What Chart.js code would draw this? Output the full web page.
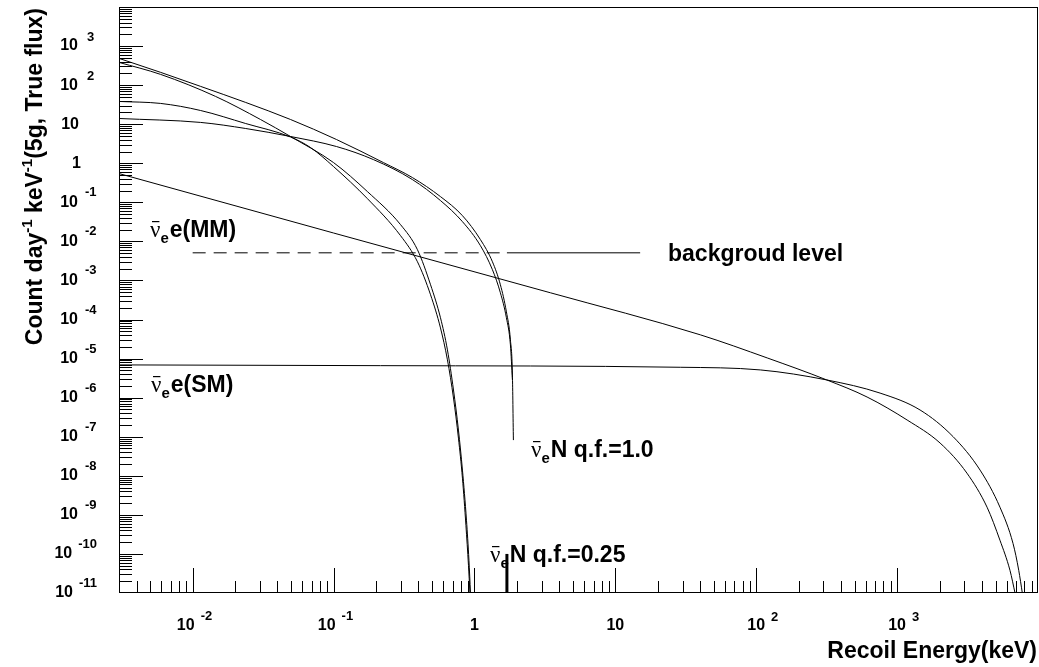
<!DOCTYPE html>
<html>
<head>
<meta charset="utf-8">
<script src="https://cdn.jsdelivr.net/npm/chart.js@4.4.1/dist/chart.umd.min.js"></script>
<style>
  html, body { margin: 0; padding: 0; background: #fff; }
  #wrap { width: 1039px; height: 667px; }
</style>
</head>
<body>
<div id="wrap"><canvas id="rates" width="1039" height="667"></canvas></div>
<script>
// recoil energy (keV) / event rate (counts day^-1 keV^-1) for each spectrum
const smEnergy = [0.003, 0.215, 28.9, 107, 317, 757, 1455, 2500, 3880, 5370, 6650, 7300, 7740];
const smRate   = [6.9e-6, 6.6e-6, 6.0e-6, 5.13e-6, 2.84e-6, 1.31e-6, 4.84e-7, 1.0e-7, 1.4e-8, 1.57e-9, 1.85e-10, 3.8e-11, 1e-11];

const mmEnergy = [0.003, 0.1, 3.46, 40.1, 119.7, 317, 612, 1178, 2018, 3130, 4350, 5370, 6325, 6870];
const mmRate   = [0.545, 0.0164, 4.84e-4, 4.06e-5, 1.04e-5, 2.84e-6, 1.04e-6, 2.68e-7, 6.9e-8, 1.17e-8, 1.57e-9, 2.24e-10, 3.8e-11, 1e-11];

// nuclear recoil, quenching factor 1.0
const qf1aEnergy = [0.003, 0.00593, 0.0114, 0.0238, 0.0495, 0.105, 0.226, 0.363, 0.574, 0.822, 1.103, 1.342, 1.528, 1.686, 1.80, 1.86, 1.89];
const qf1aRate   = [484, 212, 92.7, 36.0, 13.2, 4.05, 1.04, 0.430, 0.140, 0.0456, 0.0111, 3.01e-3, 7.76e-4, 1.57e-4, 3.01e-5, 3.82e-6, 8.2e-8];
const qf1bEnergy = [0.003, 0.0114, 0.0238, 0.0495, 0.105, 0.192, 0.363, 0.574, 0.822, 1.103, 1.342, 1.528, 1.686, 1.80, 1.86];
const qf1bRate   = [14.0, 11.1, 7.76, 4.84, 2.68, 1.24, 0.382, 0.111, 0.0320, 7.76e-3, 1.88e-3, 4.84e-4, 1.11e-4, 2.24e-5, 2.84e-6];

// nuclear recoil, quenching factor 0.25
const qf025aEnergy = [0.003, 0.00593, 0.01456, 0.0303, 0.0495, 0.100, 0.174, 0.299, 0.394, 0.488, 0.574, 0.643, 0.710, 0.770, 0.822, 0.878, 0.914, 0.937];
const qf025aRate   = [382, 188, 51.3, 13.2, 4.84, 1.04, 0.188, 0.0268, 6.12e-3, 7.76e-4, 1.11e-4, 1.67e-5, 1.57e-6, 1.48e-7, 1.40e-8, 7.3e-10, 6.9e-11, 1e-11];
const qf025bEnergy = [0.003, 0.00593, 0.0114, 0.0238, 0.0495, 0.0686, 0.100, 0.174, 0.299, 0.394, 0.488, 0.574, 0.643, 0.710, 0.770, 0.822, 0.870, 0.907, 0.929];
const qf025bRate   = [38.2, 34.0, 22.4, 10.4, 4.70, 2.53, 0.822, 0.124, 0.0140, 3.01e-3, 4.3e-4, 6.1e-5, 9.3e-6, 9.8e-7, 9.2e-8, 8.7e-9, 5.4e-10, 5.1e-11, 1e-11];

// background level and threshold
const bgLevel = 5.1e-3;
const bgDashedEnergy = [0.01, 1.7];
const bgSolidEnergy = [1.7, 15];
const thresholdEnergy = [1.7, 1.7];
const thresholdRate = [1e-10, 1e-11];

// axis ranges and decade labels
const xRange = [0.003, 1e4];
const yRange = [1e-11, 1e4];
const xDecades = [-2, -1, 0, 1, 2, 3];
const yDecades = [-11, -10, -9, -8, -7, -6, -5, -4, -3, -2, -1, 0, 1, 2, 3];

const pts = (xs, ys) => xs.map((v, i) => ({ x: v, y: ys[i] }));
const curve = (xs, ys) => ({
  data: pts(xs, ys),
  borderColor: '#000',
  borderWidth: 1,
  pointRadius: 0,
  showLine: true,
  cubicInterpolationMode: 'monotone'
});

const FONT = '"Liberation Sans", Arial, Helvetica, sans-serif';
const TICK = 'bold 16px ' + FONT;
const EXP = 'bold 13px ' + FONT;
const TITLE = 'bold 23px ' + FONT;

function powLabel(ctx, d, x, y, axis) {
  // "10" followed by a raised exponent, ROOT style
  if (d === 0 || d === 1) {
    const s = d === 0 ? '1' : '10';
    ctx.font = TICK;
    ctx.textBaseline = 'middle';
    if (axis === 'y') { ctx.textAlign = 'right'; ctx.fillText(s, d === 0 ? 81 : 79, y); }
    else { ctx.textAlign = 'center'; ctx.fillText(s, x, y); }
    return;
  }
  const e = String(d);
  ctx.font = EXP;
  const ew = ctx.measureText(e).width;
  let tenRight, expLeft;
  if (axis === 'y') {
    if (e.length > 2) { expLeft = 97 - ew; tenRight = expLeft - 6; }
    else { expLeft = d > 0 ? 87 : 85; tenRight = 78; }
  } else {
    ctx.font = TICK;
    const tw = ctx.measureText('10').width;
    tenRight = d < 0 ? x + 2 : x + tw / 2;
    expLeft = tenRight + 6;
  }
  ctx.font = TICK;
  ctx.textAlign = 'right';
  ctx.textBaseline = 'middle';
  ctx.fillText('10', tenRight, y);
  ctx.font = EXP;
  ctx.textAlign = 'left';
  ctx.textBaseline = 'alphabetic';
  ctx.fillText(e, expLeft, y - (d > 0 ? 5 : 6));
}

function nuLabel(ctx, x, base, rest) {
  // anti-neutrino symbol with electron subscript, then the rest of the label
  ctx.textAlign = 'left';
  ctx.textBaseline = 'alphabetic';
  ctx.font = '23px "Liberation Serif", "Times New Roman", serif';
  const nw = ctx.measureText('\u03bd').width;
  ctx.fillText('\u03bd', x, base);
  ctx.fillRect(x + 2, base - 16, nw - 3, 1.2);
  ctx.font = 'bold 15px ' + FONT;
  ctx.fillText('e', x + nw, base + 6);
  const sw = ctx.measureText('e').width;
  ctx.font = TITLE;
  ctx.fillText(rest, x + nw + sw + 1, base);
}

const rootFrame = {
  id: 'rootFrame',
  afterDatasetsDraw(chart) {
    const { ctx, chartArea: a, scales: { x, y } } = chart;
    ctx.save();
    ctx.strokeStyle = '#000';
    ctx.fillStyle = '#000';
    ctx.lineWidth = 1;
    ctx.strokeRect(a.left + 0.5, a.top + 0.5, a.right - a.left - 1, a.bottom - a.top - 1);

    ctx.beginPath();
    for (let d = -11; d <= 3; d++) {
      for (let k = 1; k <= 9; k++) {
        const v = k * Math.pow(10, d);
        if (v <= yRange[0] || v >= yRange[1]) continue;
        const py = Math.round(y.getPixelForValue(v)) + 0.5;
        ctx.moveTo(a.left, py);
        ctx.lineTo(a.left + (k === 1 ? 24 : 13), py);
      }
    }
    for (let d = -3; d <= 3; d++) {
      for (let k = 1; k <= 9; k++) {
        const v = k * Math.pow(10, d);
        if (v <= xRange[0] || v >= xRange[1]) continue;
        const px = Math.round(x.getPixelForValue(v)) + 0.5;
        ctx.moveTo(px, a.bottom);
        ctx.lineTo(px, a.bottom - (k === 1 ? 25 : 12));
      }
    }
    ctx.stroke();

    yDecades.forEach(d => powLabel(ctx, d, 0, y.getPixelForValue(Math.pow(10, d)), 'y'));
    xDecades.forEach(d => {
      const px = x.getPixelForValue(Math.pow(10, d));
      powLabel(ctx, d, px, a.bottom + 33, 'x');
    });

    // axis titles
    ctx.font = TITLE;
    ctx.textAlign = 'right';
    ctx.textBaseline = 'alphabetic';
    ctx.fillText('Recoil Energy(keV)', 1037, 658);

    const parts = [['Count day', 0], ['-1', 1], [' keV', 0], ['-1', 1], ['(5g, True flux)', 0]];
    const partFont = p => p[1] ? 'bold 15px ' + FONT : TITLE;
    let total = 0;
    parts.forEach(p => { ctx.font = partFont(p); total += ctx.measureText(p[0]).width; });
    ctx.save();
    ctx.translate(42, 8 + total);
    ctx.rotate(-Math.PI / 2);
    ctx.textAlign = 'left';
    let cx = 0;
    parts.forEach(p => {
      ctx.font = partFont(p);
      ctx.fillText(p[0], cx, p[1] ? -10 : 0);
      cx += ctx.measureText(p[0]).width;
    });
    ctx.restore();

    // curve labels
    nuLabel(ctx, 150, 237, 'e(MM)');
    nuLabel(ctx, 151, 392, 'e(SM)');
    nuLabel(ctx, 531, 457, 'N q.f.=1.0');
    nuLabel(ctx, 490, 562, 'N q.f.=0.25');
    ctx.font = TITLE;
    ctx.textAlign = 'left';
    ctx.fillText('backgroud level', 668, 261);
    ctx.restore();
  }
};

new Chart(document.getElementById('rates'), {
  type: 'scatter',
  data: {
    datasets: [
      curve(smEnergy, smRate),
      curve(mmEnergy, mmRate),
      curve(qf1aEnergy, qf1aRate),
      curve(qf1bEnergy, qf1bRate),
      curve(qf025aEnergy, qf025aRate),
      curve(qf025bEnergy, qf025bRate),
      Object.assign(curve(bgDashedEnergy, [bgLevel, bgLevel]), { borderDash: [13, 8] }),
      curve(bgSolidEnergy, [bgLevel, bgLevel]),
      Object.assign(curve(thresholdEnergy, thresholdRate), { borderWidth: 3 })
    ]
  },
  options: {
    responsive: false,
    animation: false,
    elements: { line: { capBezierPoints: false } },
    layout: { padding: { left: 119, right: 1, top: 7, bottom: 74 } },
    plugins: { legend: { display: false }, tooltip: { enabled: false } },
    scales: {
      x: { type: 'logarithmic', min: xRange[0], max: xRange[1], display: false },
      y: { type: 'logarithmic', min: yRange[0], max: yRange[1], display: false }
    }
  },
  plugins: [rootFrame]
});
</script>
</body>
</html>
